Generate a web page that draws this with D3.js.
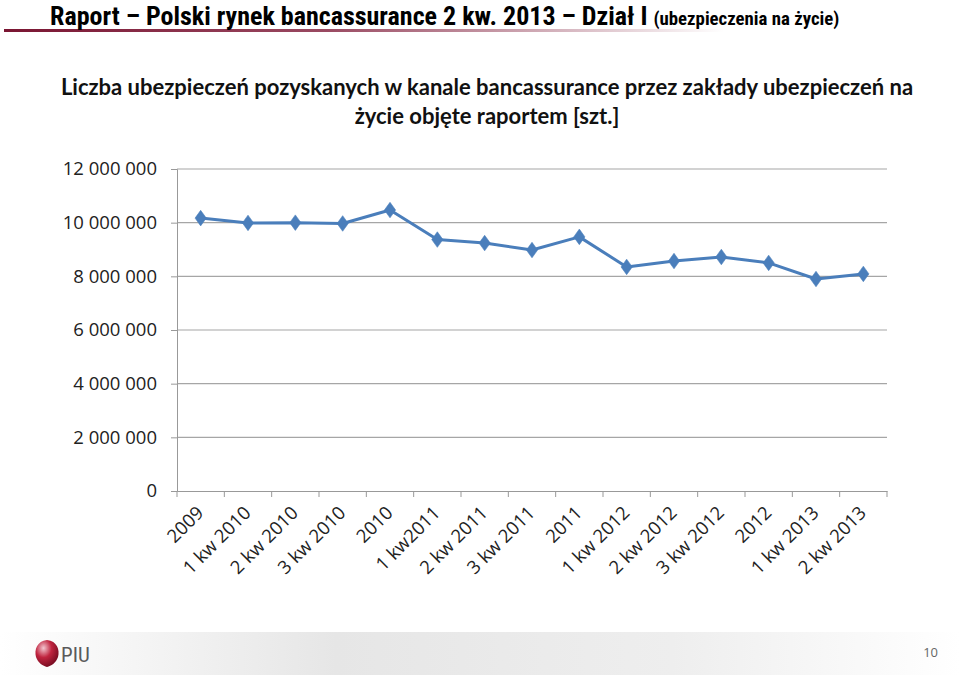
<!DOCTYPE html>
<html>
<head>
<meta charset="utf-8">
<script src="https://cdn.jsdelivr.net/npm/d3@7"></script>
<style>
  body { margin: 0; background: #fff; }
  svg { display: block; font-family: "Open Sans", "Liberation Sans", sans-serif; }
</style>
</head>
<body>
<svg id="chart" width="960" height="675"></svg>
<script>
// Data
var categories = ["2009", "1 kw 2010", "2 kw 2010", "3 kw 2010", "2010", "1 kw2011", "2 kw 2011",
    "3 kw 2011", "2011", "1 kw 2012", "2 kw 2012", "3 kw 2012", "2012", "1 kw 2013", "2 kw 2013"];
var policies = [10170000, 9990000, 10000000, 9970000, 10470000, 9370000, 9240000,
    8980000, 9470000, 8350000, 8570000, 8720000, 8500000, 7900000, 8090000];
var yTicks = [0, 2000000, 4000000, 6000000, 8000000, 10000000, 12000000];

var svg = d3.select("#chart");
var defs = svg.append("defs");

// header gradient line
var g1 = defs.append("linearGradient").attr("id", "hdr");
g1.append("stop").attr("offset", "0%").attr("stop-color", "#7a1532");
g1.append("stop").attr("offset", "45%").attr("stop-color", "#9a4a62");
g1.append("stop").attr("offset", "100%").attr("stop-color", "#ffffff");
svg.append("rect").attr("x", 4).attr("y", 29).attr("width", 720).attr("height", 3).attr("fill", "url(#hdr)");

// header title
var head = svg.append("text").attr("x", 50).attr("y", 25)
    .style("font-family", "'Liberation Sans Narrow', 'Roboto Condensed', sans-serif")
    .style("font-weight", "bold").attr("fill", "#000");
head.append("tspan").style("font-size", "26px").text("Raport – Polski rynek bancassurance 2 kw. 2013 – Dział I ");
head.append("tspan").style("font-size", "18.8px").text("(ubezpieczenia na życie)");

// chart title
var title = svg.append("text").attr("text-anchor", "middle")
    .style("font-family", "Lato, 'Open Sans', sans-serif")
    .style("font-weight", "bold").style("font-size", "22px").attr("fill", "#111");
title.append("tspan").attr("x", 487).attr("y", 95).text("Liczba ubezpieczeń pozyskanych w kanale bancassurance przez zakłady ubezpieczeń na");
title.append("tspan").attr("x", 487).attr("y", 124).text("życie objęte raportem [szt.]");

// plot
var margin = {left: 177, top: 169, right: 887, bottom: 491};
var x = d3.scaleBand().domain(categories).range([margin.left, margin.right]);
var y = d3.scaleLinear().domain([0, 12000000]).range([margin.bottom, margin.top]);

// gridlines
svg.append("g").selectAll("line").data(yTicks.filter(function(d) { return d > 0; })).enter()
    .append("line")
    .attr("x1", margin.left).attr("x2", margin.right)
    .attr("y1", function(d) { return y(d); }).attr("y2", function(d) { return y(d); })
    .attr("stroke", "#a6a6a6").attr("stroke-width", 1.2);

var fmt = function(d) { return d3.format(",")(d).replace(/,/g, " "); };

var yAxis = svg.append("g").attr("transform", "translate(" + margin.left + ",0)")
    .call(d3.axisLeft(y).tickValues(yTicks).tickFormat(fmt).tickSize(6).tickPadding(14));
yAxis.selectAll("text").style("font-size", "18.5px").style("font-family", "'Open Sans', sans-serif").attr("fill", "#222");

var xAxis = svg.append("g").attr("transform", "translate(0," + margin.bottom + ")")
    .call(d3.axisBottom(x).tickSize(0).tickFormat(""));
// ticks at band boundaries
xAxis.selectAll(".bnd").data(categories.concat([""])).enter().append("line")
    .attr("x1", function(d, i) { return margin.left + i * x.step(); })
    .attr("x2", function(d, i) { return margin.left + i * x.step(); })
    .attr("y1", 0).attr("y2", 6).attr("stroke", "#999");

svg.selectAll(".domain, .tick line").attr("stroke", "#999");
svg.selectAll(".tick text").attr("fill", "#222");

// x labels rotated
svg.append("g").selectAll("text").data(categories).enter().append("text")
    .attr("transform", function(d) {
        return "translate(" + (x(d) + x.bandwidth() / 2 + 4) + "," + (margin.bottom + 23) + ") rotate(-45)";
    })
    .attr("text-anchor", "end")
    .style("font-size", "18.5px").style("font-family", "'Open Sans', sans-serif").attr("fill", "#222")
    .text(function(d) { return d; });

// line
var line = d3.line()
    .x(function(d, i) { return x(categories[i]) + x.bandwidth() / 2; })
    .y(function(d) { return y(d); });
svg.append("path").datum(policies).attr("d", line)
    .attr("fill", "none").attr("stroke", "#4a7ebb").attr("stroke-width", 3).attr("stroke-linejoin", "round");

svg.append("g").selectAll("path").data(policies).enter().append("path")
    .attr("d", d3.symbol().type(d3.symbolDiamond).size(70))
    .attr("transform", function(d, i) {
        return "translate(" + (x(categories[i]) + x.bandwidth() / 2) + "," + y(d) + ") scale(1.25,1)";
    })
    .attr("fill", "#4a7ebb").attr("stroke", "#4a7ebb").attr("stroke-width", 0.5);

// footer
var g2 = defs.append("linearGradient").attr("id", "ftr");
g2.append("stop").attr("offset", "0%").attr("stop-color", "#ffffff");
g2.append("stop").attr("offset", "35%").attr("stop-color", "#e6e6e6");
g2.append("stop").attr("offset", "70%").attr("stop-color", "#eeeeee");
g2.append("stop").attr("offset", "100%").attr("stop-color", "#ffffff");
svg.append("rect").attr("x", 0).attr("y", 632).attr("width", 960).attr("height", 43).attr("fill", "url(#ftr)");

var g3 = defs.append("radialGradient").attr("id", "logo").attr("cx", "35%").attr("cy", "30%").attr("r", "70%");
g3.append("stop").attr("offset", "0%").attr("stop-color", "#f3c6d0");
g3.append("stop").attr("offset", "50%").attr("stop-color", "#c0243f");
g3.append("stop").attr("offset", "100%").attr("stop-color", "#7a0d22");
svg.append("path")
    .attr("d", "M47,640 C57,641 60,650 58,657 C56,663 51,666 47,667 C43,666 38,663 36,657 C34,650 37,641 47,640 Z")
    .attr("fill", "url(#logo)");
svg.append("text").attr("x", 61).attr("y", 662)
    .style("font-family", "'Roboto Condensed', 'Liberation Sans Narrow', sans-serif").style("font-size", "21px")
    .attr("fill", "#5a5a5a").text("PIU");

svg.append("text").attr("x", 938).attr("y", 657).attr("text-anchor", "end")
    .style("font-size", "13px").attr("fill", "#666").text("10");
</script>
</body>
</html>
